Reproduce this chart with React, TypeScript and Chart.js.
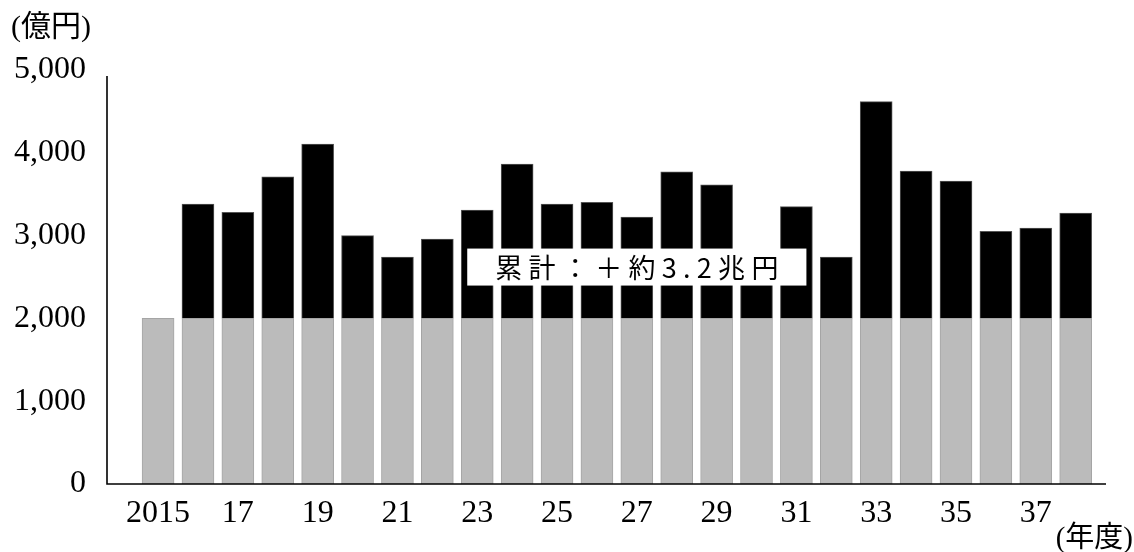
import React, { useEffect, useRef } from "react";
import { Chart, registerables } from "chart.js";

Chart.register(...registerables);

// Fiscal years (年度)
const years = [
  2015, 2016, 2017, 2018, 2019, 2020, 2021, 2022, 2023, 2024, 2025, 2026,
  2027, 2028, 2029, 2030, 2031, 2032, 2033, 2034, 2035, 2036, 2037, 2038,
];

// Base level (gray), 億円
const baseValues = [
  2000, 2000, 2000, 2000, 2000, 2000, 2000, 2000, 2000, 2000, 2000, 2000,
  2000, 2000, 2000, 2000, 2000, 2000, 2000, 2000, 2000, 2000, 2000, 2000,
];

// Increase above base (black), 億円
const addedValues: (number | null)[] = [
  null, 1380, 1280, 1710, 2105, 1000, 740, 957, 1309, 1863, 1380, 1402,
  1224, 1770, 1612, 780, 1350, 740, 2618, 1778, 1657, 1051, 1091, 1273,
];

const xTickValues = [2015, 2017, 2019, 2021, 2023, 2025, 2027, 2029, 2031, 2033, 2035, 2037];
const xTickLabels = ["2015", "17", "19", "21", "23", "25", "27", "29", "31", "33", "35", "37"];

const yTickValues = [0, 1000, 2000, 3000, 4000, 5000];
const yTickLabels = ["0", "1,000", "2,000", "3,000", "4,000", "5,000"];

const unitLabelY = "(億円)";
const unitLabelX = "(年度)";
const annotationText = "累計：＋約3.2兆円";
const annotationYear = 2027;
const annotationValue = 2620;

const SERIF = "'Liberation Serif', 'Noto Sans CJK JP', serif";
const CJK_SANS = "'Noto Sans CJK JP', 'Noto Sans', sans-serif";

const decorPlugin = {
  id: "decor",
  afterDatasetsDraw(chart: any) {
    const ctx = chart.ctx as CanvasRenderingContext2D;
    const { chartArea } = chart;
    const xs = chart.scales.x;
    const ys = chart.scales.y;
    ctx.save();
    // axis lines
    ctx.strokeStyle = "#000";
    ctx.lineWidth = 1.6;
    ctx.beginPath();
    ctx.moveTo(chartArea.left, chartArea.top + 6);
    ctx.lineTo(chartArea.left, chartArea.bottom);
    ctx.lineTo(chartArea.right, chartArea.bottom);
    ctx.stroke();

    // annotation box
    const cx = xs.getPixelForValue(annotationYear);
    const cy = ys.getPixelForValue(annotationValue);
    ctx.font = `27px ${CJK_SANS}`;
    const ls = 6.3;
    (ctx as any).letterSpacing = `${ls}px`;
    const w = ctx.measureText(annotationText).width - ls;
    const boxW = w + 56;
    const boxH = 37;
    ctx.fillStyle = "#fff";
    ctx.fillRect(cx - boxW / 2, cy - boxH / 2, boxW, boxH);
    ctx.fillStyle = "#000";
    ctx.textAlign = "left";
    ctx.textBaseline = "middle";
    ctx.fillText(annotationText, cx - w / 2, cy + 1);
    (ctx as any).letterSpacing = "0px";

    // unit labels
    ctx.font = `30px ${SERIF}`;
    ctx.textBaseline = "top";
    ctx.textAlign = "left";
    ctx.fillText(unitLabelY, 11, 13);
    ctx.font = `29px ${SERIF}`;
    ctx.textAlign = "right";
    ctx.fillText(unitLabelX, 1133, 525);
    ctx.restore();
  },
};

export default function App() {
  const canvasRef = useRef<HTMLCanvasElement | null>(null);

  useEffect(() => {
    const canvas = canvasRef.current;
    if (!canvas) return;
    const chart = new Chart(canvas, {
      type: "bar",
      data: {
        datasets: [
          {
            label: "base",
            data: years.map((x, i) => ({ x, y: baseValues[i] })),
            backgroundColor: "#bbbbbb",
            borderColor: "#a5a5a5",
            borderWidth: 1,
            barThickness: 32,
          },
          {
            label: "added",
            data: years.map((x, i) => ({ x, y: addedValues[i] })),
            backgroundColor: "#000000",
            borderColor: "#555555",
            borderWidth: 1,
            barThickness: 32,
          },
        ],
      },
      options: {
        animation: false,
        responsive: false,
        maintainAspectRatio: false,
        layout: { padding: { top: 70, right: 28, left: 0, bottom: 0 } },
        plugins: { legend: { display: false }, tooltip: { enabled: false } },
        scales: {
          x: {
            type: "linear",
            stacked: true,
            offset: false,
            min: 2013.72,
            max: 2038.76,
            grid: { display: false, drawTicks: false, offset: false },
            border: { display: false },
            afterBuildTicks: (s: any) => {
              s.ticks = xTickValues.map((v) => ({ value: v }));
            },
            afterFit: (s: any) => {
              s.height = 68;
            },
            ticks: {
              autoSkip: false,
              maxRotation: 0,
              minRotation: 0,
              padding: 10,
              color: "#000",
              font: { family: SERIF, size: 32 },
              callback: (v: any) => {
                const i = xTickValues.indexOf(Number(v));
                return i >= 0 ? xTickLabels[i] : "";
              },
            },
          },
          y: {
            stacked: true,
            min: 0,
            max: 5000,
            grid: { display: false, drawTicks: false },
            border: { display: false },
            afterBuildTicks: (s: any) => {
              s.ticks = yTickValues.map((v) => ({ value: v }));
            },
            afterFit: (s: any) => {
              s.width = 107;
            },
            ticks: {
              padding: 21,
              color: "#000",
              font: { family: SERIF, size: 32 },
              callback: (v: any) => {
                const i = yTickValues.indexOf(Number(v));
                return i >= 0 ? yTickLabels[i] : "";
              },
            },
          },
        },
      },
      plugins: [decorPlugin],
    } as any);
    return () => chart.destroy();
  }, []);

  return (
    <div style={{ position: "absolute", left: 0, top: 0, width: 1134, height: 552, background: "#fff" }}>
      <canvas ref={canvasRef} width={1134} height={552} style={{ display: "block" }} />
    </div>
  );
}
